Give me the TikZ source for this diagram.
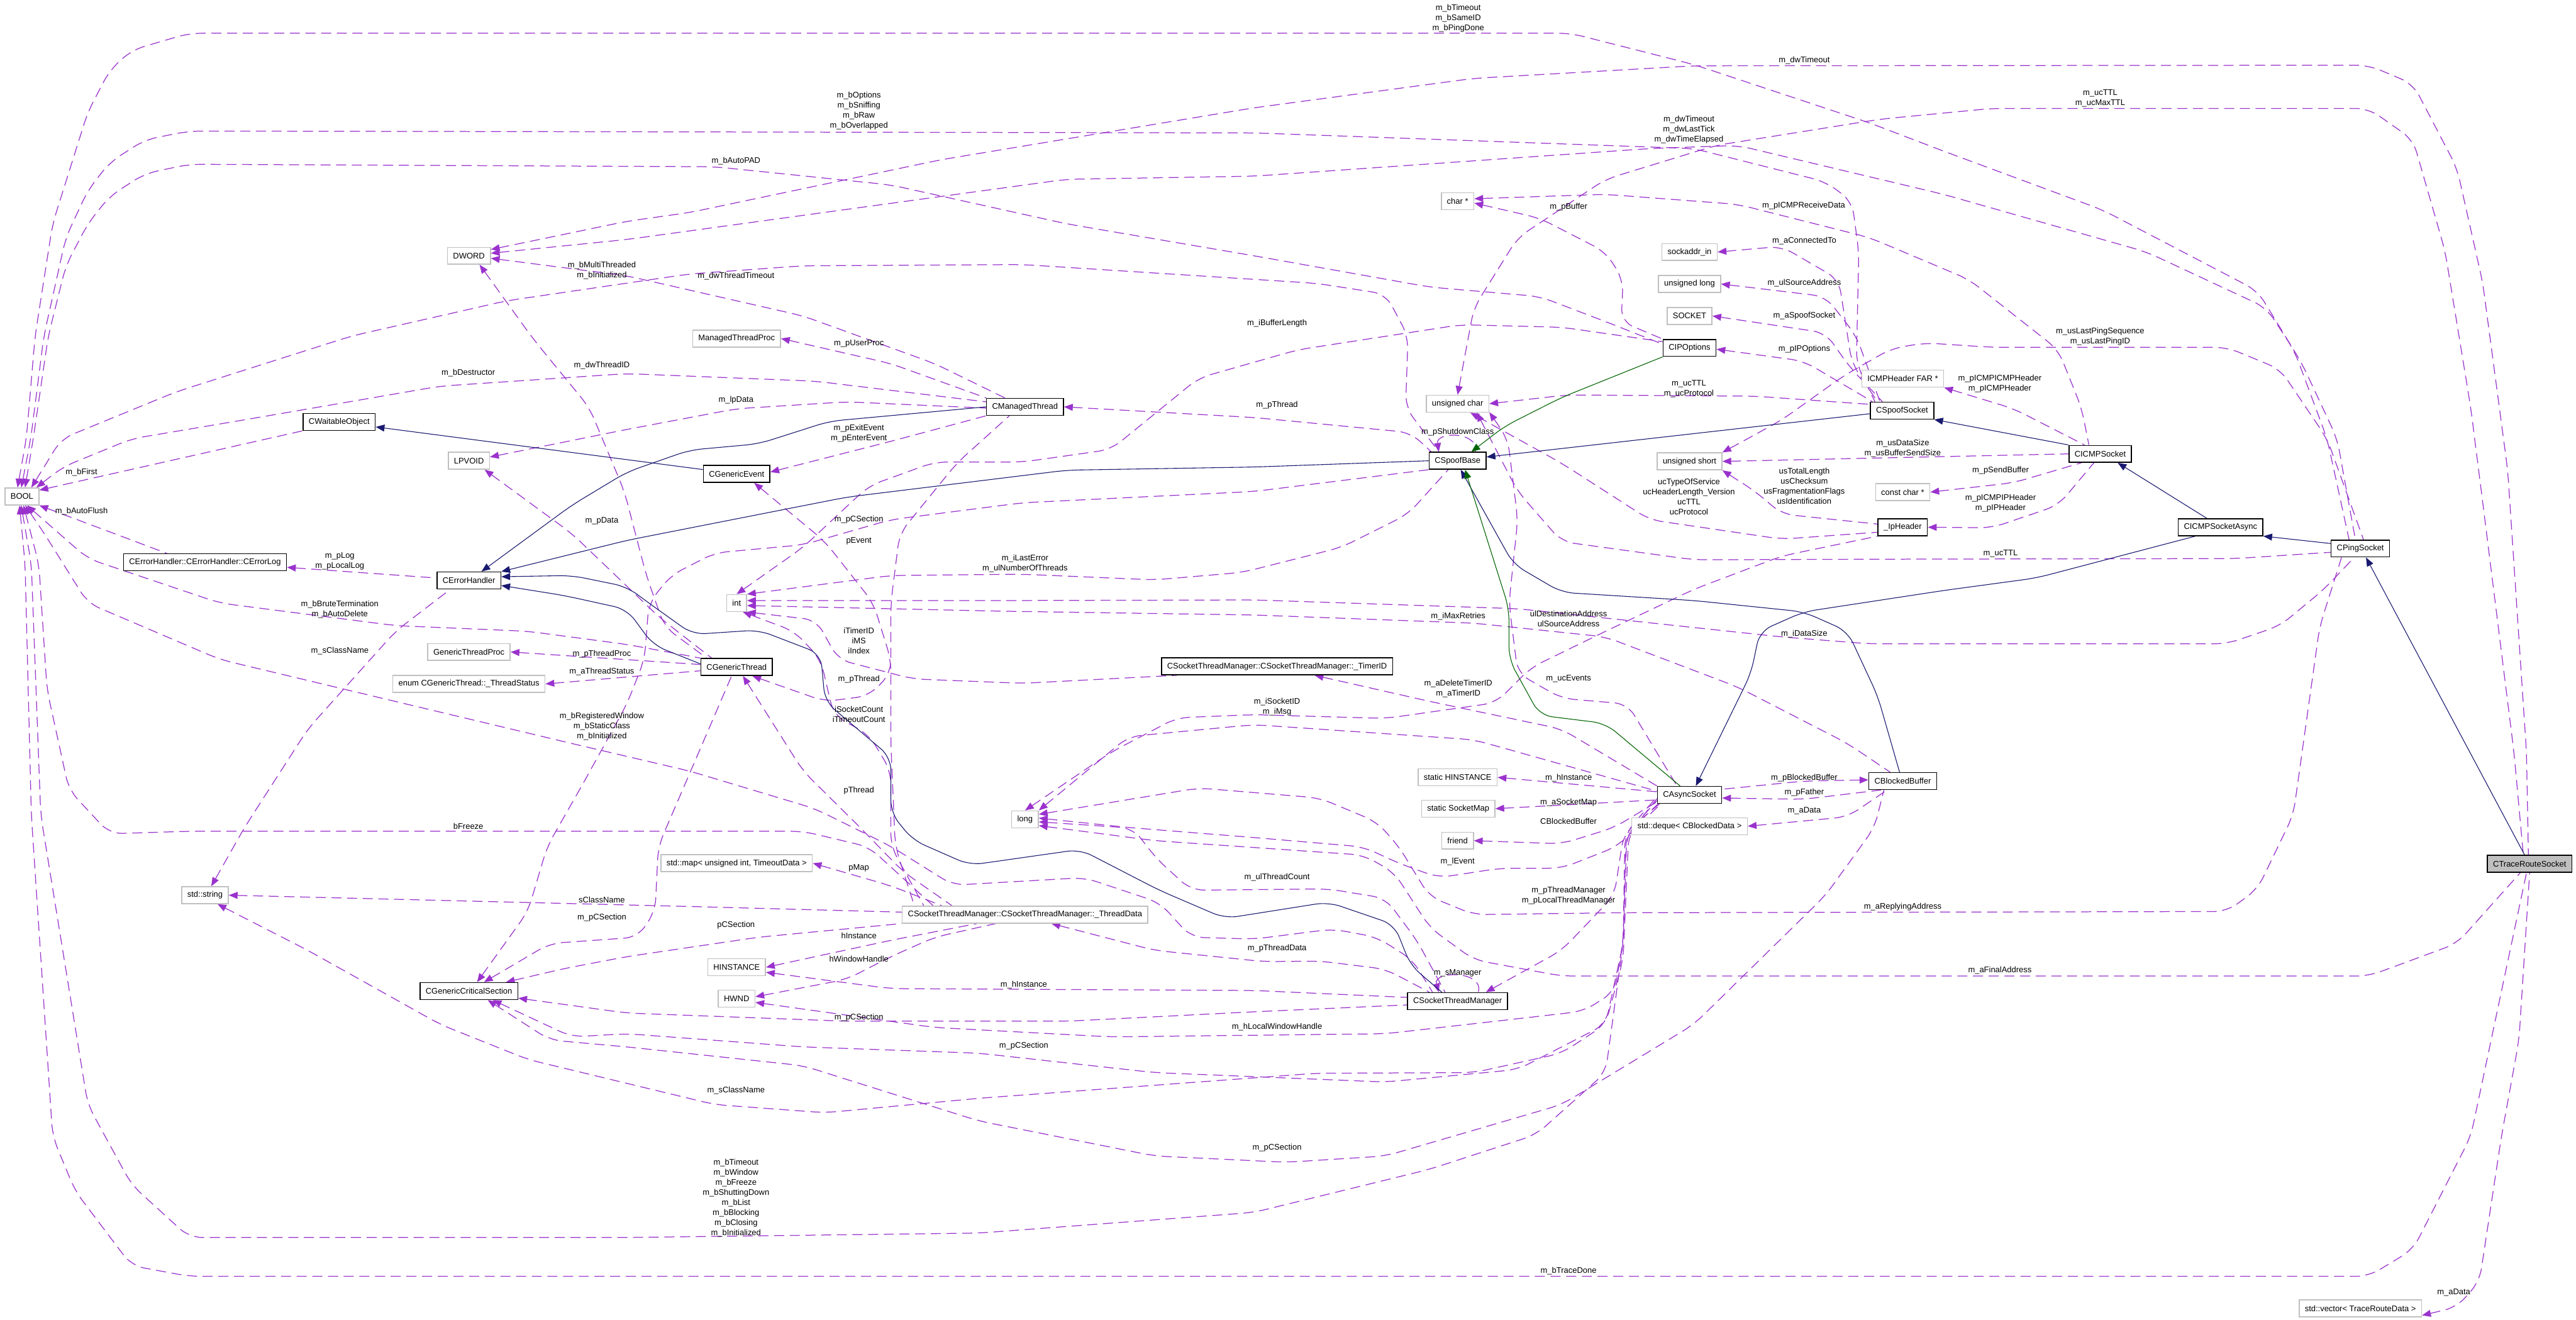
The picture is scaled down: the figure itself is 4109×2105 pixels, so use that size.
\documentclass[tikz,border=0pt]{standalone}
\usepackage{fontspec}
\setmainfont{Liberation Sans}
\usepackage{tikz}
\usetikzlibrary{arrows.meta}
\definecolor{useViolet}{HTML}{9A32CD}
\definecolor{inhNavy}{HTML}{191970}
\definecolor{protGreen}{HTML}{006400}
\definecolor{boxGray}{HTML}{BFBFBF}
\newcommand{\dxfont}{\fontsize{13}{16}\selectfont}
\pgfdeclarelayer{bg}
\pgfdeclarelayer{edges}
\pgfsetlayers{bg,edges,main}
\tikzset{
  cls/.style={draw=black, line width=1.5pt, fill=white, minimum height=27pt, inner xsep=9pt, inner ysep=0pt, font=\dxfont},
  ext/.style={cls, draw=boxGray},
  cur/.style={cls, fill=boxGray},
  usage/.style={draw=useViolet, line width=1.25pt, dash pattern=on 16pt off 9pt, arrows={Triangle[length=14pt,width=11pt]-}, rounded corners=20pt},
  inh/.style={draw=inhNavy, line width=1.1pt, arrows={Triangle[length=14pt,width=11pt]-}, rounded corners=20pt},
  prot/.style={inh, draw=protGreen},
  lbl/.style={font=\dxfont, align=center, inner sep=0pt}
}
\begin{document}
\begin{tikzpicture}[x=1pt,y=-1pt]
\useasboundingbox (0,0) rectangle (4109,2105);
\begin{pgfonlayer}{bg}
\fill[white] (0,0) rectangle (4109,2105);
\end{pgfonlayer}

\node[ext] (bool) at (35,792) {BOOL};
\node[ext] (dword) at (748,408) {DWORD};
\node[cls] (waitable) at (541,673) {CWaitableObject};
\node[cls] (errlog) at (327,897) {CErrorHandler::CErrorHandler::CErrorLog};
\node[cls] (errh) at (748,926) {CErrorHandler};
\node[ext] (lpvoid) at (748,735) {LPVOID};
\node[ext] (gtproc) at (748,1040) {GenericThreadProc};
\node[ext] (tstatus) at (748,1091) {enum CGenericThread::\_ThreadStatus};
\node[ext] (mtproc) at (1175,540) {ManagedThreadProc};
\node[cls] (mthread) at (1635,649) {CManagedThread};
\node[cls] (gevent) at (1175,756) {CGenericEvent};
\node[ext] (tint) at (1175,962) {int};
\node[cls] (gthread) at (1175,1064) {CGenericThread};
\node[cls] (timerid) at (2037,1063) {CSocketThreadManager::CSocketThreadManager::\_TimerID};
\node[ext] (tlong) at (1635,1307) {long};
\node[ext] (charp) at (2325,321) {char *};
\node[ext] (sockaddr) at (2695,402) {sockaddr\_in};
\node[ext] (ulong) at (2695,453) {unsigned long};
\node[ext] (socket) at (2695,504) {SOCKET};
\node[cls] (ipopt) at (2695,555) {CIPOptions};
\node[ext] (uchar) at (2325,644) {unsigned char};
\node[cls] (spoofsock) at (3034,655) {CSpoofSocket};
\node[ext] (icmphdr) at (3035,604) {ICMPHeader FAR *};
\node[cls] (spoofbase) at (2325,735) {CSpoofBase};
\node[ext] (ushort) at (2695,736) {unsigned short};
\node[ext] (cchar) at (3035,785) {const char *};
\node[cls] (iphdr) at (3035,841) {\_IpHeader};
\node[ext] (shinst) at (2325,1240) {static HINSTANCE};
\node[ext] (smap) at (2326,1290) {static SocketMap};
\node[ext] (friend) at (2325,1341) {friend};
\node[cls] (async) at (2695,1268) {CAsyncSocket};
\node[cls] (blocked) at (3035,1246) {CBlockedBuffer};
\node[ext] (deque) at (2695,1318) {std::deque< CBlockedData >};
\node[cls] (icmpsock) at (3350,724) {CICMPSocket};
\node[cls] (icmpasync) at (3542,841) {CICMPSocketAsync};
\node[cls] (ping) at (3765,875) {CPingSocket};
\node[cur] (trace) at (4035,1378) {CTraceRouteSocket};
\node[ext] (vec) at (3765,2087) {std::vector< TraceRouteData >};
\node[ext] (sstring) at (327,1428) {std::string};
\node[cls] (critsec) at (748,1581) {CGenericCriticalSection};
\node[ext] (tmap) at (1175,1377) {std::map< unsigned int, TimeoutData >};
\node[ext] (tdata) at (1635,1459) {CSocketThreadManager::CSocketThreadManager::\_ThreadData};
\node[ext] (hinst) at (1175,1543) {HINSTANCE};
\node[ext] (hwnd) at (1175,1593) {HWND};
\node[cls] (stm) at (2325,1597) {CSocketThreadManager};

\begin{pgfonlayer}{edges}
% members: arrow sits on the type that is used
\draw[usage] ([xshift=-7pt]bool.north) -- (42,700) -- (56,536) -- (84,357) -- (112,268) -- (140,179) -- (175,112) -- (210,80) -- (302,53) -- (2505,53) -- (2702,103) -- (2982,196) -- (3100,241) -- (3354,335) -- (3601,464) -- (3672,580) -- (3728,700) -- ([xshift=-8pt]ping.north);
\draw[usage] ([xshift=-1pt]bool.north) -- (49,700) -- (70,536) -- (105,379) -- (140,304) -- (175,259) -- (231,223) -- (302,209) -- (2000,212) -- (2702,237) -- (2912,290) -- (2954,321) -- (2965,402) -- (2961,580) -- ([xshift=8pt]spoofsock.north west);
\draw[usage] ([xshift=5pt]bool.north) -- (53,700) -- (77,536) -- (105,424) -- (140,357) -- (175,313) -- (231,277) -- (302,262) -- (1140,266) -- (1421,295) -- (1701,357) -- (2000,408) -- (2281,458) -- (2456,473) -- (2561,513) -- ([yshift=6pt]ipopt.west);
\draw[usage] ([xshift=15pt]bool.north) -- (98,700) -- (281,625) -- (561,536) -- (807,480) -- (1100,437) -- (1281,424) -- (1631,422) -- (2100,452) -- (2210,469) -- (2246,536) -- (2242,650) -- ([xshift=-30pt]spoofbase.north);
\draw[usage] ([xshift=23pt]bool.north) -- (100,745) -- (210,700) -- (400,668) -- (702,616) -- (1000,596) -- (1300,608) -- ([yshift=8pt]mthread.west);
\draw[usage] (bool.20) -- (waitable.south west);
\draw[usage] (bool.south east) -- ([xshift=70pt]errlog.north west);
\draw[usage] (bool.-60) -- (140,891) -- (351,962) -- (631,998) -- (842,1007) -- (1000,1028) -- (gthread.north west);
\draw[usage] (bool.-70) -- (70,850) -- (140,962) -- (351,1052) -- (631,1119) -- (912,1186) -- (1100,1230) -- (1300,1290) -- (1421,1350) -- (1520,1412) -- (1730,1400) -- (1850,1440) -- (1900,1495) -- (2000,1498) -- (2126,1482) -- (2196,1495) -- (2253,1531) -- ([xshift=-40pt]stm.north);
\draw[usage] (bool.-80) -- (62,900) -- (75,1100) -- (110,1260) -- (175,1330) -- (302,1326) -- (1281,1326) -- (1386,1351) -- ([xshift=50pt]tdata.north west);
\draw[usage] (bool.-95) -- (50,900) -- (65,1300) -- (140,1762) -- (210,1890) -- (302,1974) -- (1000,1974) -- (1561,1967) -- (2000,1934) -- (2281,1865) -- (2450,1810) -- (2561,1711) -- (2589,1505) -- (2595,1330) -- ([yshift=-9pt]async.west);
\draw[usage] (bool.-105) -- (40,900) -- (50,1300) -- (84,1813) -- (120,1900) -- (210,2019) -- (302,2036) -- (3778,2036) -- (3849,1993) -- (3941,1813) -- ([xshift=-5pt]trace.south);
\draw[usage] ([yshift=10pt]dword.east) -- (1000,353) -- (1100,339) -- (1500,255) -- (2000,172) -- (2351,125) -- (2702,105) -- (3778,104) -- (3849,134) -- (3919,268) -- (3960,450) -- (4000,750) -- (4030,1200) -- ([xshift=-2pt]trace.north);
\draw[usage] ([yshift=4pt]dword.east) -- (1000,382) -- (1701,286) -- (2000,281) -- (2631,237) -- (2772,232) -- (3100,310) -- (3424,402) -- (3615,491) -- (3660,560) -- (3712,700) -- ([xshift=-18pt]ping.north);
\draw[usage] ([yshift=-4pt]dword.east) -- (1000,440) -- (1281,504) -- (1491,580) -- ([xshift=30pt]mthread.north west);
\draw[usage] ([xshift=17pt]dword.south) -- (850,540) -- (940,650) -- (996,784) -- (1031,918) -- (1060,1000) -- ([xshift=10pt]gthread.north west);
\draw[usage] ([yshift=6pt]lpvoid.east) -- (1000,685) -- (1175,652) -- (1351,641) -- ([yshift=-2pt]mthread.west);
\draw[usage] ([xshift=25pt]lpvoid.south) -- (912,851) -- (1052,985) -- ([xshift=18pt]gthread.north west);
\draw[usage] ([yshift=-8pt]errlog.east) -- ([yshift=4pt]errh.west);
\draw[usage] ([xshift=10pt]sstring.north) -- (390,1320) -- (491,1163) -- (631,1007) -- ([xshift=-30pt]errh.south);
\draw[usage] (sstring.east) -- (1100,1446) -- ([yshift=4pt]tdata.west);
\draw[usage] ([xshift=20pt]sstring.south) -- (491,1516) -- (702,1634) -- (842,1690) -- (1140,1762) -- (1316,1775) -- (1561,1752) -- (2100,1712) -- (2351,1711) -- (2491,1680) -- (2561,1634) -- (2589,1531) -- (2598,1330) -- ([yshift=-6pt]async.west);
\draw[usage] ([xshift=24pt]critsec.north) -- (877,1505) -- (1017,1495) -- (1045,1454) -- (1050,1350) -- ([xshift=-8pt]gthread.south);
\draw[usage] ([xshift=13pt]critsec.north) -- (842,1454) -- (873,1350) -- (930,1250) -- (1000,1123) -- (1028,1052) -- (1035,962) -- (1070,918) -- (1140,882) -- (1281,869) -- (1421,829) -- (1631,802) -- (2000,784) -- (spoofbase.south west);
\draw[usage] ([xshift=59pt]critsec.north) -- (900,1545) -- (1000,1526) -- (1210,1495) -- (tdata.south west);
\draw[usage] ([yshift=3pt]critsec.south east) -- (1000,1616) -- (1351,1629) -- (1702,1629) -- (2000,1614) -- ([yshift=-6pt]stm.west);
\draw[usage] ([xshift=38pt]critsec.south) -- (912,1654) -- (1000,1649) -- (1281,1670) -- (1561,1680) -- (1842,1711) -- (2210,1726) -- (2421,1706) -- (2561,1634) -- (2589,1505) -- (2592,1330) -- ([yshift=-3pt]async.west);
\draw[usage] ([xshift=30pt]critsec.south) -- (877,1659) -- (1000,1670) -- (1281,1700) -- (1561,1788) -- (1842,1844) -- (2052,1854) -- (2210,1844) -- (2491,1762) -- (2702,1634) -- (2912,1428) -- (2990,1320) -- ([xshift=-30pt]blocked.south);
\draw[usage] (gtproc.east) -- ([yshift=4pt]gthread.west);
\draw[usage] (tstatus.east) -- ([yshift=-6pt]gthread.west);
\draw[usage] (mtproc.east) -- (1421,580) -- (mthread.north west);
\draw[usage] ([yshift=3pt]gevent.east) -- (1421,704) -- (mthread.south west);
\draw[usage] ([xshift=28pt]gevent.south) -- (1316,864) -- (1393,962) -- (1421,1052) -- (1421,1186) -- (1428,1350) -- ([xshift=20pt]tdata.north west);
\draw[usage] (mthread.east) -- (2000,666) -- (2250,690) -- ([xshift=-42pt]spoofbase.north);
\draw[usage] ([xshift=10pt]gthread.south) -- (1281,1230) -- (1372,1320) -- (1440,1390) -- ([xshift=80pt]tdata.north west);
\draw[usage] ([xshift=25pt]gthread.south) -- (1316,1119) -- (1386,1110) -- (1421,1074) -- (1421,962) -- (1435,851) -- (1526,739) -- ([xshift=-25pt]mthread.south);
\draw[usage] ([xshift=60pt]timerid.south) -- (2281,1119) -- (2491,1163) -- (async.north west);
\draw[usage] (tint.north east) -- (1421,918) -- (1631,916) -- (1842,925) -- (1982,913) -- (2140,873) -- (2246,820) -- ([xshift=-15pt]spoofbase.south);
\draw[usage] (tint.north) -- (1281,873) -- (1386,775) -- (1491,737) -- (1631,737) -- (1772,717) -- (1842,660) -- (1912,603) -- (2070,558) -- (2330,518) -- (2491,522) -- ([yshift=10pt]ipopt.west);
\draw[usage] ([yshift=-4pt]tint.east) -- (1600,975) -- (2000,981) -- (2351,994) -- (2561,1016) -- (2772,1096) -- (2947,1186) -- ([xshift=-20pt]blocked.north);
\draw[usage] ([yshift=4pt]tint.east) -- (1600,958) -- (2000,957) -- (2421,971) -- (2842,1016) -- (2982,1027) -- (3552,1027) -- (3637,998) -- (3707,940) -- ([xshift=-10pt]ping.south);
\draw[usage] (tint.south east) -- (1302,989) -- (1337,1052) -- (1456,1083) -- (1631,1090) -- ([xshift=-160pt]timerid.south);
\draw[usage] ([xshift=10pt]tint.south) -- (1267,1007) -- (1309,1052) -- (1330,1141) -- (1386,1172) -- (1421,1230) -- (1421,1350) -- ([xshift=35pt]tdata.north west);
\draw[usage] (tlong.north) -- (1772,1200) -- (1877,1145) -- (2000,1140) -- (2210,1146) -- (2386,1121) -- (2442,1065) -- (2561,1007) -- (2702,940) -- (2842,887) -- (iphdr.south west);
\draw[usage] (tlong.north east) -- (1800,1175) -- (2000,1156) -- (2351,1180) -- ([yshift=6pt]async.west);
\draw[usage] ([yshift=8pt]tlong.east) -- (1912,1257) -- (2105,1273) -- (2196,1311) -- (2231,1350) -- (2280,1430) -- (2351,1459) -- (2582,1456) -- (3552,1454) -- (3601,1418) -- (3658,1300) -- (3700,1000) -- ([xshift=-30pt]ping.south);
\draw[usage] ([yshift=2pt]tlong.east) -- (1800,1320) -- (2000,1336) -- (2175,1351) -- (2231,1377) -- (2295,1400) -- (2393,1385) -- (2491,1385) -- (2580,1350) -- ([xshift=6pt]async.south west);
\draw[usage] ([yshift=-4pt]tlong.east) -- (1807,1321) -- (1845,1370) -- (1900,1420) -- (2119,1418) -- (2210,1433) -- (2260,1500) -- ([xshift=-20pt]stm.north);
\draw[usage] ([yshift=-10pt]tlong.east) -- (1842,1341) -- (2175,1364) -- (2224,1392) -- (2281,1480) -- (2351,1531) -- (2491,1557) -- (3778,1557) -- (3919,1505) -- ([xshift=-15pt]trace.south);
\draw[usage] (uchar.north) -- (2351,491) -- (2421,379) -- (2561,286) -- (2737,232) -- (3000,190) -- (3177,173) -- (3778,173) -- (3849,223) -- (3900,400) -- (3941,650) -- (3960,800) -- (4010,1200) -- ([xshift=-10pt]trace.north);
\draw[usage] (uchar.east) -- (2500,630) -- (2800,632) -- ([yshift=10pt]spoofsock.west);
\draw[usage] (uchar.-35) -- (2491,739) -- (2631,829) -- (2842,860) -- ([yshift=-8pt]iphdr.west);
\draw[usage] (uchar.-25) -- (2421,784) -- (2491,864) -- (2702,893) -- (3000,892) -- (3566,891) -- ([yshift=-6pt]ping.west);
\draw[usage] (uchar.-15) -- (2405,700) -- (2421,829) -- (2407,962) -- (2421,1074) -- (2491,1114) -- (2596,1123) -- ([xshift=-20pt]async.north);
\draw[usage] (ushort.east) -- (icmpsock.west);
\draw[usage] (ushort.south east) -- (2800,784) -- (2842,820) -- ([yshift=5pt]iphdr.west);
\draw[usage] (ushort.north east) -- (2842,670) -- (2940,600) -- (3017,556) -- (3071,547) -- (3177,554) -- (3552,554) -- (3637,589) -- (3712,700) -- ([xshift=5pt]ping.north);
\draw[usage] ([yshift=-3pt]charp.east) -- (2456,348) -- (2561,402) -- (2589,446) -- (2586,513) -- (ipopt.north west);
\draw[usage] ([yshift=4pt]charp.east) -- (2561,310) -- (2772,326) -- (2982,379) -- (3141,446) -- (3283,558) -- (3320,650) -- ([xshift=-18pt]icmpsock.north);
\draw[usage] (sockaddr.east) -- (2842,393) -- (2933,446) -- (2954,580) -- ([xshift=12pt]spoofsock.north west);
\draw[usage] (ulong.east) -- (2912,473) -- (2961,536) -- ([xshift=16pt]spoofsock.north west);
\draw[usage] (socket.east) -- (2912,531) -- (2950,585) -- ([xshift=20pt]spoofsock.north west);
\draw[usage] ([yshift=-2pt]ipopt.east) -- (2877,576) -- ([xshift=4pt]spoofsock.north west);
\draw[usage] (icmphdr.south east) -- (3212,652) -- ([xshift=-25pt]icmpsock.north);
\draw[usage] (cchar.east) -- (3212,770) -- ([xshift=-30pt]icmpsock.south);
\draw[usage] (iphdr.east) -- (3177,842) -- (3283,806) -- ([xshift=-10pt]icmpsock.south);
\draw[usage] ([yshift=2pt]blocked.west) -- (2877,1246) -- ([yshift=9pt]async.east);
\draw[usage] ([yshift=-5pt]async.east) -- (2877,1275) -- ([xshift=20pt]blocked.south west);
\draw[usage] (deque.east) -- (2947,1303) -- ([xshift=-25pt]blocked.south);
\draw[usage] (shinst.east) -- ([yshift=5pt]async.west);
\draw[usage] (smap.east) -- ([yshift=-8pt]async.west);
\draw[usage] (friend.east) -- (2491,1346) -- (2575,1320) -- ([yshift=-11pt]async.west);
\draw[usage] ([xshift=45pt]stm.north) -- (2491,1516) -- (2575,1428) -- (2590,1330) -- ([xshift=4pt]async.south west);
\draw[usage] ([yshift=-6pt]hwnd.east) -- (1491,1639) -- (1772,1654) -- (2210,1649) -- (2386,1629) -- (2526,1613) -- (2575,1582) -- (2589,1505) -- (2594,1330) -- ([xshift=2pt]async.south west);
\draw[usage] ([xshift=-30pt]stm.north) .. controls (2285,1548) and (2368,1548) .. ([xshift=33pt]stm.north);
\draw[usage] ([xshift=-30pt]spoofbase.north) .. controls (2290,688) and (2360,688) .. ([xshift=28pt]spoofbase.north);
\draw[usage] ([yshift=-8pt]hinst.east) -- (1421,1577) -- (2000,1580) -- ([yshift=6pt]stm.west);
\draw[usage] ([xshift=42pt]tdata.south) -- (1842,1516) -- (2017,1534) -- (2105,1533) -- (2210,1546) -- ([xshift=-45pt]stm.north);
\draw[usage] (tmap.east) -- (1421,1413) -- ([xshift=64pt]tdata.north west);
\draw[usage] (hinst.east) -- (1421,1500) -- ([xshift=120pt]tdata.south west);
\draw[usage] ([yshift=3pt]hwnd.east) -- (1351,1562) -- (1421,1526) -- (1491,1495) -- ([xshift=150pt]tdata.south west);
\draw[usage] ([yshift=3pt]vec.south east) -- (3919,2085) -- (3955,2044) -- (3990,1813) -- (4018,1659) -- (trace.south);
% base classes
\draw[inh] ([yshift=-8pt]waitable.east) -- ([yshift=7pt]gevent.west);
\draw[inh] ([xshift=20pt]errh.north) -- (912,806) -- (1000,753) -- (1100,718) -- (1210,708) -- (1323,672) -- (mthread.west);
\draw[inh] (errh.north east) -- (1000,862) -- (1351,793) -- (1702,750) -- (2000,745) -- (spoofbase.west);
\draw[inh] ([yshift=6pt]errh.east) -- (912,918) -- (1000,936) -- (1035,962) -- (1105,1012) -- (1210,1005) -- (1309,1043) -- (1316,1119) -- (1421,1208) -- (1421,1297) -- (1456,1340) -- (1547,1380) -- (1723,1355) -- (1849,1420) -- (1954,1465) -- (2119,1439) -- (2224,1475) -- (2250,1540) -- ([xshift=-25pt]stm.north);
\draw[inh] ([yshift=-8pt]errh.east) -- (900,950) -- (1000,972) -- (1042,1029) -- ([yshift=5pt]gthread.west);
\draw[inh] ([yshift=6pt]spoofbase.east) -- ([yshift=-5pt]spoofsock.west);
\draw[inh] (spoofsock.south east) -- (icmpsock.north west);
\draw[inh] ([xshift=28pt]icmpsock.south) -- ([xshift=-22pt]icmpasync.north);
\draw[inh] (icmpasync.south east) -- ([yshift=8pt]ping.west);
\draw[inh] ([xshift=9pt]ping.south) -- ([xshift=-8pt]trace.north);
\draw[inh] ([xshift=10pt]async.north) -- (2793,1074) -- (2807,1007) -- (2877,976) -- (3100,942) -- (3248,922) -- ([xshift=-40pt]icmpasync.south);
\draw[inh] ([xshift=5pt]spoofbase.south) -- (2414,900) -- (2491,945) -- (2702,958) -- (2877,976) -- (2947,1007) -- (2995,1110) -- ([xshift=-5pt]blocked.north);
\draw[prot] ([xshift=12pt]spoofbase.south) -- (2407,971) -- (2407,1052) -- (2456,1141) -- (2561,1154) -- ([xshift=-15pt]async.north);
\draw[prot] ([xshift=22pt]spoofbase.north) -- (2400,680) -- (2491,634) -- (ipopt.south west);
\end{pgfonlayer}

\node[lbl] (l01) at (2326,29) {m\_bTimeout\\m\_bSameID\\m\_bPingDone};
\node[lbl] (l02) at (2878,96) {m\_dwTimeout};
\node[lbl] (l03) at (3350,157) {m\_ucTTL\\m\_ucMaxTTL};
\node[lbl] (l04) at (1370,177) {m\_bOptions\\m\_bSniffing\\m\_bRaw\\m\_bOverlapped};
\node[lbl] (l05) at (2694,207) {m\_dwTimeout\\m\_dwLastTick\\m\_dwTimeElapsed};
\node[lbl] (l06) at (1174,257) {m\_bAutoPAD};
\node[lbl] (l07) at (2502,330) {m\_pBuffer};
\node[lbl] (l08) at (2877,328) {m\_pICMPReceiveData};
\node[lbl] (l09) at (2878,384) {m\_aConnectedTo};
\node[lbl] (l10) at (960,431) {m\_bMultiThreaded\\m\_bInitialized};
\node[lbl] (l11) at (1174,440) {m\_dwThreadTimeout};
\node[lbl] (l12) at (2878,452) {m\_ulSourceAddress};
\node[lbl] (l13) at (2878,504) {m\_aSpoofSocket};
\node[lbl] (l14) at (2037,516) {m\_iBufferLength};
\node[lbl] (l15) at (3350,537) {m\_usLastPingSequence\\m\_usLastPingID};
\node[lbl] (l16) at (1370,548) {m\_pUserProc};
\node[lbl] (l17) at (2878,557) {m\_pIPOptions};
\node[lbl] (l18) at (960,583) {m\_dwThreadID};
\node[lbl] (l19) at (747,595) {m\_bDestructor};
\node[lbl] (l20) at (3190,612) {m\_pICMPICMPHeader\\m\_pICMPHeader};
\node[lbl] (l21) at (2694,620) {m\_ucTTL\\m\_ucProtocol};
\node[lbl] (l22) at (1174,638) {m\_lpData};
\node[lbl] (l23) at (2037,646) {m\_pThread};
\node[lbl] (l24) at (2325,689) {m\_pShutdownClass};
\node[lbl] (l25) at (1370,691) {m\_pExitEvent\\m\_pEnterEvent};
\node[lbl] (l26) at (3035,715) {m\_usDataSize\\m\_usBufferSendSize};
\node[lbl] (l27) at (3191,751) {m\_pSendBuffer};
\node[lbl] (l28) at (130,753) {m\_bFirst};
\node[lbl] (l29) at (2878,775) {usTotalLength\\usChecksum\\usFragmentationFlags\\usIdentification};
\node[lbl] (l30) at (2694,792) {ucTypeOfService\\ucHeaderLength\_Version\\ucTTL\\ucProtocol};
\node[lbl] (l31) at (3191,803) {m\_pICMPIPHeader\\m\_pIPHeader};
\node[lbl] (l32) at (130,816) {m\_bAutoFlush};
\node[lbl] (l33) at (1370,829) {m\_pCSection};
\node[lbl] (l34) at (960,831) {m\_pData};
\node[lbl] (l35) at (1370,863) {pEvent};
\node[lbl] (l36) at (3191,883) {m\_ucTTL};
\node[lbl] (l37) at (542,895) {m\_pLog\\m\_pLocalLog};
\node[lbl] (l38) at (1635,899) {m\_iLastError\\m\_ulNumberOfThreads};
\node[lbl] (l39) at (542,972) {m\_bBruteTermination\\m\_bAutoDelete};
\node[lbl] (l40) at (2326,983) {m\_iMaxRetries};
\node[lbl] (l41) at (2502,987) {ulDestinationAddress\\ulSourceAddress};
\node[lbl] (l42) at (2878,1011) {m\_iDataSize};
\node[lbl] (l43) at (1370,1022) {iTimerID\\iMS\\iIndex};
\node[lbl] (l44) at (542,1038) {m\_sClassName};
\node[lbl] (l45) at (960,1043) {m\_pThreadProc};
\node[lbl] (l46) at (960,1071) {m\_aThreadStatus};
\node[lbl] (l47) at (2502,1083) {m\_ucEvents};
\node[lbl] (l48) at (1370,1084) {m\_pThread};
\node[lbl] (l49) at (2326,1099) {m\_aDeleteTimerID\\m\_aTimerID};
\node[lbl] (l50) at (2037,1128) {m\_iSocketID\\m\_iMsg};
\node[lbl] (l51) at (1370,1139) {iSocketCount\\iTimeoutCount};
\node[lbl] (l52) at (960,1159) {m\_bRegisteredWindow\\m\_bStaticClass\\m\_bInitialized};
\node[lbl] (l53) at (2502,1241) {m\_hInstance};
\node[lbl] (l54) at (2878,1241) {m\_pBlockedBuffer};
\node[lbl] (l55) at (1370,1261) {pThread};
\node[lbl] (l56) at (2878,1264) {m\_pFather};
\node[lbl] (l57) at (2502,1280) {m\_aSocketMap};
\node[lbl] (l58) at (2878,1293) {m\_aData};
\node[lbl] (l59) at (2502,1310) {CBlockedBuffer};
\node[lbl] (l60) at (747,1318) {bFreeze};
\node[lbl] (l61) at (2325,1374) {m\_lEvent};
\node[lbl] (l62) at (1370,1385) {pMap};
\node[lbl] (l63) at (2037,1400) {m\_ulThreadCount};
\node[lbl] (l64) at (2502,1429) {m\_pThreadManager\\m\_pLocalThreadManager};
\node[lbl] (l65) at (960,1435) {sClassName};
\node[lbl] (l66) at (3035,1447) {m\_aReplyingAddress};
\node[lbl] (l67) at (960,1464) {m\_pCSection};
\node[lbl] (l68) at (1174,1476) {pCSection};
\node[lbl] (l69) at (1370,1493) {hInstance};
\node[lbl] (l70) at (2037,1513) {m\_pThreadData};
\node[lbl] (l71) at (1370,1530) {hWindowHandle};
\node[lbl] (l72) at (3190,1548) {m\_aFinalAddress};
\node[lbl] (l73) at (2325,1552) {m\_sManager};
\node[lbl] (l74) at (1633,1571) {m\_hInstance};
\node[lbl] (l75) at (1370,1623) {m\_pCSection};
\node[lbl] (l76) at (2037,1638) {m\_hLocalWindowHandle};
\node[lbl] (l77) at (1633,1668) {m\_pCSection};
\node[lbl] (l78) at (1174,1740) {m\_sClassName};
\node[lbl] (l79) at (2037,1831) {m\_pCSection};
\node[lbl] (l80) at (1174,1911) {m\_bTimeout\\m\_bWindow\\m\_bFreeze\\m\_bShuttingDown\\m\_bList\\m\_bBlocking\\m\_bClosing\\m\_bInitialized};
\node[lbl] (l81) at (2502,2027) {m\_bTraceDone};
\node[lbl] (l82) at (3914,2062) {m\_aData};
\end{tikzpicture}
\end{document}
